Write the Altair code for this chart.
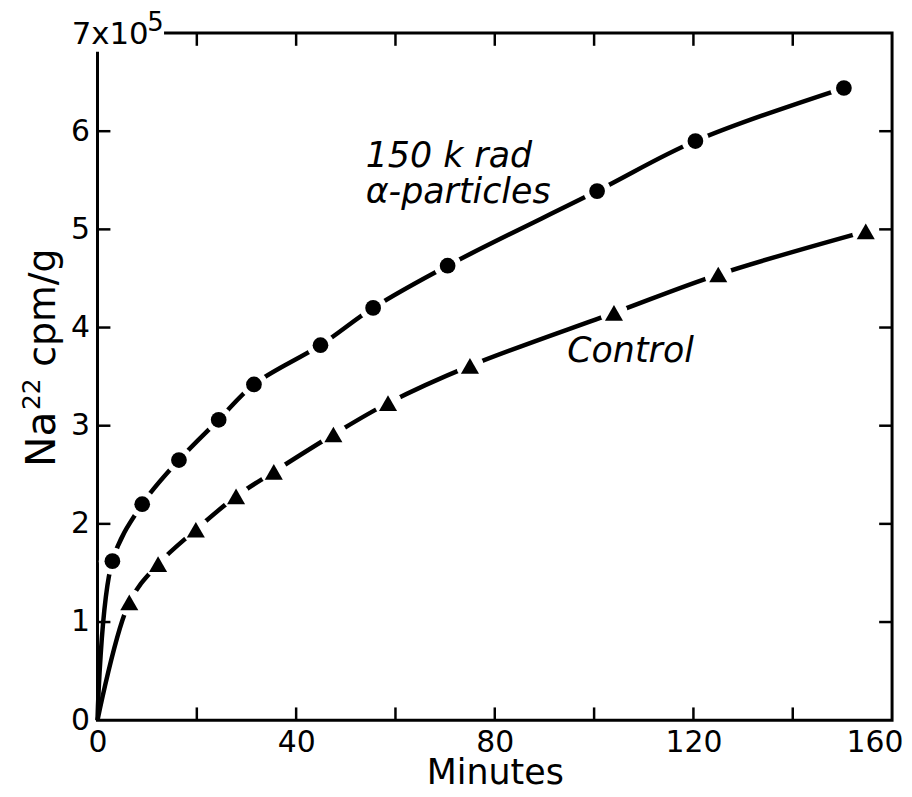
import altair as alt
import pandas as pd

# ---- data (y in units of 10^5 cpm/g) ----
alpha_minutes = [3.0, 9.0, 16.4, 24.4, 31.5, 44.9, 55.5, 70.5, 100.6, 120.4, 150.3]
alpha_counts = [1.62, 2.20, 2.65, 3.06, 3.42, 3.82, 4.20, 4.63, 5.39, 5.90, 6.44]
control_minutes = [6.4, 12.2, 19.8, 27.9, 35.5, 47.5, 58.5, 75.0, 104.0, 125.0, 154.7]
control_counts = [1.20, 1.59, 1.94, 2.28, 2.53, 2.91, 3.23, 3.61, 4.15, 4.54, 4.98]

x_ticks = [0, 20, 40, 60, 80, 100, 120, 140, 160]
x_labels = [0, 40, 80, 120, 160]
y_ticks = [0, 1, 2, 3, 4, 5, 6, 7]
y_labels = [0, 1, 2, 3, 4, 5, 6]

ann_text = ["150 k rad", "α-particles", "Control"]
ann_x = [54.0, 54.0, 94.6]
ann_y = [5.64, 5.27, 3.65]

FONT = "DejaVu Sans"
XD = [0, 160]
YD = [0, 7]

pts = pd.DataFrame({
    "min": alpha_minutes + control_minutes,
    "cpm": alpha_counts + control_counts,
    "series": ["alpha"] * len(alpha_minutes) + ["control"] * len(control_minutes),
})
lines = pd.DataFrame({
    "min": [0.0] + alpha_minutes + [0.0] + control_minutes,
    "cpm": [0.0] + alpha_counts + [0.0] + control_counts,
    "series": ["alpha"] * (len(alpha_minutes) + 1) + ["control"] * (len(control_minutes) + 1),
})

xs = alt.Scale(domain=XD, nice=False, zero=False)
ys = alt.Scale(domain=YD, nice=False, zero=False)

x_enc = alt.X("min:Q", scale=xs, axis=alt.Axis(
    values=x_labels, format="d", ticks=False, domain=False, grid=False, labelFont=FONT,
    labelFontSize=30, labelColor="black", labelPadding=7, labelFlush=False,
    labelOverlap=False,
    labelAlign=alt.condition("datum.value == 160", alt.value("right"), alt.value("center")),
    labelOffset=alt.condition("datum.value == 160", alt.value(11), alt.value(0)),
    title="Minutes", titleFont=FONT, titleFontSize=35,
    titleFontWeight="normal", titleColor="black", titleBaseline="alphabetic", titleY=64))
y_enc = alt.Y("cpm:Q", scale=ys, axis=alt.Axis(
    values=y_labels, format="d", ticks=False, domain=False, grid=False, labelFont=FONT,
    labelFontSize=30, labelColor="black", labelPadding=8, labelFlush=False,
    labelOverlap=False, title=""))

line_layer = alt.Chart(lines).mark_line(
    color="black", strokeWidth=4.5, interpolate="catmull-rom"
).encode(x=x_enc, y=y_enc, detail="series:N")

halo = alt.Chart(pts).mark_point(
    shape="circle", filled=True, color="white", opacity=1, size=750
).encode(x=alt.X("min:Q", scale=xs), y=alt.Y("cpm:Q", scale=ys))

markers = alt.Chart(pts).mark_point(filled=True, color="black", opacity=1).encode(
    x=alt.X("min:Q", scale=xs), y=alt.Y("cpm:Q", scale=ys),
    shape=alt.Shape("series:N", scale=alt.Scale(domain=["alpha", "control"],
                                                range=["circle", "triangle-up"]), legend=None),
    size=alt.Size("series:N", scale=alt.Scale(domain=["alpha", "control"],
                                              range=[250, 330]), legend=None),
)

# inward tick marks on all four sides
tlx = 2.6   # tick length in x units
tly = 0.13  # tick length in y units
tick_rows = []
for v in x_ticks[1:-1]:
    tick_rows.append({"x": v, "x2": v, "y": 0, "y2": tly})
    tick_rows.append({"x": v, "x2": v, "y": 7, "y2": 7 - tly})
for v in y_ticks[1:-1]:
    tick_rows.append({"x": 0, "x2": tlx, "y": v, "y2": v})
    tick_rows.append({"x": 160, "x2": 160 - tlx, "y": v, "y2": v})
ticks = alt.Chart(pd.DataFrame(tick_rows)).mark_rule(color="black", strokeWidth=2.5).encode(
    x=alt.X("x:Q", scale=xs), x2="x2:Q", y=alt.Y("y:Q", scale=ys), y2="y2:Q")

# white patch that interrupts the frame behind the "7x10^5" label
patch = alt.Chart(pd.DataFrame({"x": [-7.6], "x2": [13.4], "y": [6.81], "y2": [7.3]})).mark_rect(
    color="white", opacity=1
).encode(x=alt.X("x:Q", scale=xs), x2="x2:Q", y=alt.Y("y:Q", scale=ys), y2="y2:Q")

ann = alt.Chart(pd.DataFrame({"t": ann_text, "x": ann_x, "y": ann_y})).mark_text(
    font=FONT, fontSize=35, fontStyle="italic", align="left", baseline="alphabetic", color="black"
).encode(x=alt.X("x:Q", scale=xs), y=alt.Y("y:Q", scale=ys), text="t:N")

top_label = alt.Chart(pd.DataFrame({"t": ["7x10"], "x": [0], "y": [7]})).mark_text(
    font=FONT, fontSize=31, align="left", baseline="middle", dx=-26, dy=2, color="black"
).encode(x=alt.X("x:Q", scale=xs), y=alt.Y("y:Q", scale=ys), text="t:N")
top_exp = alt.Chart(pd.DataFrame({"t": ["5"], "x": [0], "y": [7]})).mark_text(
    font=FONT, fontSize=26, align="left", baseline="middle", dx=50, dy=-10, color="black"
).encode(x=alt.X("x:Q", scale=xs), y=alt.Y("y:Q", scale=ys), text="t:N")

# y-axis title "Na^22 cpm/g" built from rotated pieces (superscript larger than unicode ²)
ytitle = alt.Chart(pd.DataFrame({
    "t": ["Na", "22", "cpm/g"],
    "x": [-8.6, -11.5, -8.6],
    "y": [2.58, 3.16, 3.60],
    "s": [41, 25, 38],
})).mark_text(font=FONT, angle=270, align="left", baseline="alphabetic", color="black").encode(
    x=alt.X("x:Q", scale=xs), y=alt.Y("y:Q", scale=ys), text="t:N",
    size=alt.Size("s:Q", scale=None, legend=None))

chart = alt.layer(line_layer, halo, markers, ticks, patch, ann, top_label, top_exp, ytitle).properties(
    width=799, height=691, autosize="none", background="white",
    padding={"left": 90, "top": 23, "right": 12, "bottom": 66},
).configure_view(stroke="black", strokeWidth=3)

chart.save("out.html", embed_options={"renderer": "svg", "actions": False})
